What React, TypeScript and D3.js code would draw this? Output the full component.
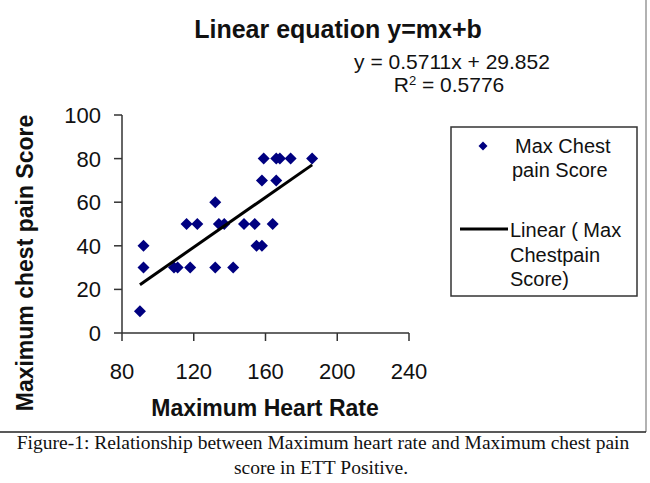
import React from "react";
import * as d3 from "d3";

const heartRate = [90, 92, 92, 109, 111, 116, 122, 118, 132, 132, 134, 137, 142, 148, 154, 155, 158, 158, 159, 164, 166, 166, 168, 174, 186];
const chestPain = [10, 40, 30, 30, 30, 50, 50, 30, 60, 30, 50, 50, 30, 50, 50, 40, 40, 70, 80, 50, 70, 80, 80, 80, 80];
const xTicks = [80, 120, 160, 200, 240];
const yTicks = [0, 20, 40, 60, 80, 100];

const FONT = "Arial, 'Liberation Sans', sans-serif";
const SERIF = "'Times New Roman', 'Liberation Serif', serif";

export default function App() {
  const x = d3.scaleLinear().domain([80, 240]).range([122, 409]);
  const y = d3.scaleLinear().domain([0, 100]).range([333, 115]);

  const mx = d3.mean(heartRate) as number;
  const my = d3.mean(chestPain) as number;
  let sxy = 0, sxx = 0;
  heartRate.forEach((v, i) => {
    sxy += (v - mx) * (chestPain[i] - my);
    sxx += (v - mx) * (v - mx);
  });
  const slope = sxy / sxx;
  const intercept = my - slope * mx;
  const [x0, x1] = d3.extent(heartRate) as [number, number];
  const trend = d3.line<number>().x((d) => x(d)).y((d) => y(slope * d + intercept));

  const diamond = (cx: number, cy: number, r: number) =>
    `M${cx},${cy - r}L${cx + r},${cy}L${cx},${cy + r}L${cx - r},${cy}Z`;

  const axisColor = "#333";

  return (
    <div style={{ position: "absolute", left: 0, top: 0 }}>
      <svg width={650} height={483} style={{ display: "block", background: "#fff" }}>
        {/* chart frame */}
        <line x1={646} y1={0} x2={646} y2={432} stroke="#999" strokeWidth={1.5} />
        <line x1={0} y1={432} x2={646} y2={432} stroke="#222" strokeWidth={1.5} />

        {/* title */}
        <text x={338} y={38} textAnchor="middle" fontFamily={FONT} fontWeight="bold" fontSize={25} fill="#111">
          Linear equation y=mx+b
        </text>
        <text x={452} y={69} textAnchor="middle" fontFamily={FONT} fontSize={21} fill="#111">
          y = 0.5711x + 29.852
        </text>
        <text x={449} y={92} textAnchor="middle" fontFamily={FONT} fontSize={21} fill="#111">
          R<tspan fontSize={13} dy={-7}>2</tspan>
          <tspan dy={7}> = 0.5776</tspan>
        </text>

        {/* axes */}
        <line x1={x(80)} y1={y(100)} x2={x(80)} y2={y(0)} stroke={axisColor} strokeWidth={1.5} />
        <line x1={x(80)} y1={y(0)} x2={x(240)} y2={y(0)} stroke={axisColor} strokeWidth={1.5} />
        {yTicks.map((t) => (
          <g key={"y" + t}>
            <line x1={x(80) - 8} x2={x(80)} y1={y(t)} y2={y(t)} stroke={axisColor} strokeWidth={1.5} />
            <text x={101} y={y(t)} dy="0.36em" textAnchor="end" fontFamily={FONT} fontSize={22} fill="#111">
              {t}
            </text>
          </g>
        ))}
        {xTicks.map((t) => (
          <g key={"x" + t}>
            <line x1={x(t)} x2={x(t)} y1={y(0)} y2={y(0) + 8} stroke={axisColor} strokeWidth={1.5} />
            <text x={x(t)} y={379} textAnchor="middle" fontFamily={FONT} fontSize={22} fill="#111">
              {t}
            </text>
          </g>
        ))}

        {/* axis titles */}
        <text x={265} y={416} textAnchor="middle" fontFamily={FONT} fontWeight="bold" fontSize={23} fill="#111">
          Maximum Heart Rate
        </text>
        <text
          transform={`translate(33,263) rotate(-90)`}
          textAnchor="middle"
          fontFamily={FONT}
          fontWeight="bold"
          fontSize={23}
          fill="#111"
        >
          Maximum chest pain Score
        </text>

        {/* points */}
        {heartRate.map((hr, i) => (
          <path key={"p" + i} d={diamond(x(hr), y(chestPain[i]), 6)} fill="#000080" />
        ))}

        {/* trend line */}
        <path d={trend([x0, x1]) || ""} stroke="#000" strokeWidth={3} fill="none" />

        {/* legend */}
        <rect x={451} y={127} width={186} height={169} fill="#fff" stroke="#333" strokeWidth={1.5} />
        <path d={diamond(483, 146, 4.5)} fill="#000080" />
        <text x={515} y={153} fontFamily={FONT} fontSize={20} fill="#111">Max Chest</text>
        <text x={512} y={177} fontFamily={FONT} fontSize={20} fill="#111">pain Score</text>
        <line x1={460} x2={508} y1={229} y2={229} stroke="#000" strokeWidth={3} />
        <text x={510} y={237} fontFamily={FONT} fontSize={20} fill="#111">Linear ( Max</text>
        <text x={510} y={262} fontFamily={FONT} fontSize={20} fill="#111">Chestpain</text>
        <text x={510} y={286} fontFamily={FONT} fontSize={20} fill="#111">Score)</text>

        {/* caption */}
        <text x={323} y={449} textAnchor="middle" fontFamily={SERIF} fontSize={19.5} fill="#111">
          Figure-1: Relationship between Maximum heart rate and Maximum chest pain
        </text>
        <text x={321} y={474} textAnchor="middle" fontFamily={SERIF} fontSize={19.5} fill="#111">
          score in ETT Positive.
        </text>
      </svg>
    </div>
  );
}
